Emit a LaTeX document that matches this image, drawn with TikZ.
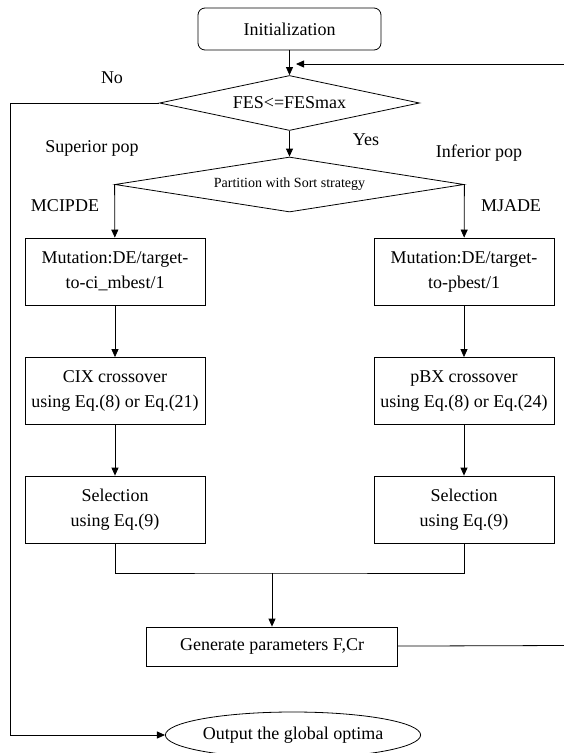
\documentclass[tikz,border=0pt]{standalone}
\usepackage{fontspec}
\setmainfont{Liberation Serif}
\usetikzlibrary{shapes.geometric,arrows.meta}
\tikzset{
    flow/.style={line width=0.8pt, -{Triangle[length=8pt,width=7pt]}},
    plain/.style={line width=0.8pt},
    start/.style={draw, line width=0.8pt, rounded corners=7pt, minimum width=183pt, minimum height=42pt},
    proc/.style={draw, line width=0.8pt, minimum width=180pt, minimum height=67pt, align=center, inner sep=0pt},
    cond/.style={draw, line width=0.8pt, diamond, inner sep=0pt},
    stop/.style={draw, line width=0.8pt, ellipse, minimum width=254pt, minimum height=46pt, inner sep=0pt},
    tag/.style={inner sep=0pt}
}

\begin{document}
\begin{tikzpicture}[x=1pt,y=-1pt,font=\fontsize{18pt}{25pt}\selectfont]
		\useasboundingbox (0,0) rectangle (564,753);
		
		% Initialization
		\node [start] (init) at (289.5,29) {Initialization};
		
		% Stopping test
		\node [cond, aspect=4.73, minimum width=260pt, minimum height=55pt] (test) at (289.5,103) {FES<=FESmax};
		\node [tag] (lno) at (112,78) {No};
		\node [tag] (lyes) at (366,140) {Yes};
		
		% Partition of the population
		\node [cond, aspect=6.33, minimum width=349pt, minimum height=55pt, font=\fontsize{14pt}{16pt}\selectfont] (part) at (289.5,184.5) {Partition with Sort strategy};
		\node [tag] (lsup) at (92,148) {Superior pop};
		\node [tag] (linf) at (479,153) {Inferior pop};
		\node [tag] (lmci) at (65,206) {MCIPDE};
		\node [tag] (lmja) at (511,206) {MJADE};
		
		% Superior branch
		\node [proc] (mutL) at (115,271.5) {Mutation:DE/target-\\to-ci\_mbest/1};
		\node [proc] (crsL) at (115,391) {CIX crossover\\using Eq.(8) or Eq.(21)};
		\node [proc] (selL) at (115,509.5) {Selection\\using Eq.(9)};
		
		% Inferior branch
		\node [proc] (mutR) at (464,271.5) {Mutation:DE/target-\\to-pbest/1};
		\node [proc] (crsR) at (464,391) {pBX crossover\\using Eq.(8) or Eq.(24)};
		\node [proc] (selR) at (464,509.5) {Selection\\using Eq.(9)};
		
		% Parameters
		\node [proc, minimum width=251pt, minimum height=39pt] (gen) at (272,646.5) {Generate parameters F,Cr};
		
		% Output
		\node [stop] (out) at (293,735) {Output the global optima};
		
		% Loop ends and corners
		\coordinate (fbR) at (564,64);
		\coordinate (fbL) at (296,64);
		\coordinate (genR) at (564,645.5);
		\coordinate (noC) at (10,103);
		\coordinate (join) at (272,573);
		
		% Connectors
		\draw [flow] (init) -- (test);
		\draw [flow] (fbR) -- (fbL);
		\draw [flow] (test) -- (part);
		\draw [flow] (test) -- (noC) |- (out);
		\draw [flow] (part.west) -- (mutL);
		\draw [flow] (part.east) -- (mutR);
		\draw [flow] (mutL) -- (crsL);
		\draw [flow] (crsL) -- (selL);
		\draw [flow] (mutR) -- (crsR);
		\draw [flow] (crsR) -- (selR);
		\draw [plain] (selL) |- (join) -| (selR);
		\draw [flow] (join) -- (gen);
		\draw [plain] (gen) -- (genR);
		
	\end{tikzpicture}
\end{document}
